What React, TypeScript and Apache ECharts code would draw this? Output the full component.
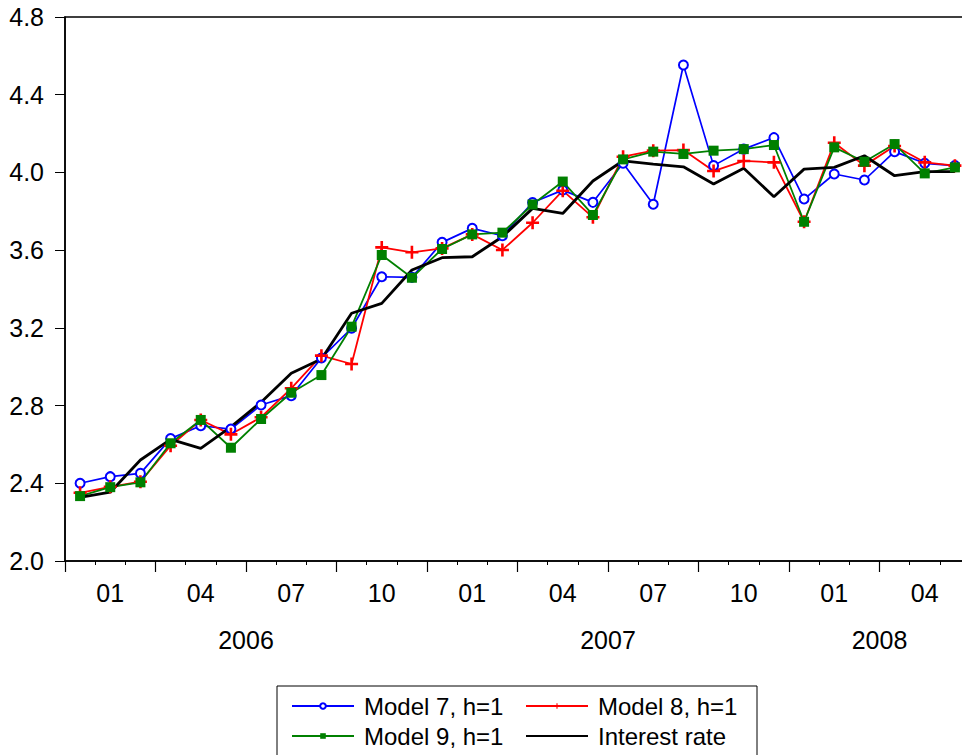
import React, { useEffect, useRef } from "react";
import * as echarts from "echarts";

const months = [
  "2006-01", "2006-02", "2006-03", "2006-04", "2006-05", "2006-06",
  "2006-07", "2006-08", "2006-09", "2006-10", "2006-11", "2006-12",
  "2007-01", "2007-02", "2007-03", "2007-04", "2007-05", "2007-06",
  "2007-07", "2007-08", "2007-09", "2007-10", "2007-11", "2007-12",
  "2008-01", "2008-02", "2008-03", "2008-04", "2008-05", "2008-06",
];

const model7 = [2.40, 2.434, 2.451, 2.63, 2.696, 2.679, 2.803, 2.851, 3.045, 3.198, 3.463, 3.46, 3.64, 3.712, 3.674, 3.845, 3.909, 3.846, 4.047, 3.836, 4.553, 4.035, 4.12, 4.179, 3.863, 3.992, 3.961, 4.107, 4.047, 4.035];
const model8 = [2.351, 2.382, 2.408, 2.593, 2.726, 2.652, 2.74, 2.889, 3.057, 3.014, 3.614, 3.589, 3.609, 3.681, 3.601, 3.741, 3.906, 3.769, 4.081, 4.112, 4.115, 4.007, 4.059, 4.052, 3.746, 4.153, 4.035, 4.136, 4.052, 4.035];
const model9 = [2.334, 2.38, 2.405, 2.606, 2.726, 2.583, 2.731, 2.866, 2.957, 3.206, 3.575, 3.458, 3.606, 3.681, 3.69, 3.835, 3.953, 3.781, 4.067, 4.107, 4.095, 4.112, 4.12, 4.141, 3.746, 4.129, 4.055, 4.146, 3.995, 4.026];
const interestRate = [2.328, 2.354, 2.52, 2.626, 2.58, 2.69, 2.817, 2.966, 3.04, 3.275, 3.326, 3.498, 3.561, 3.566, 3.669, 3.815, 3.789, 3.956, 4.06, 4.043, 4.029, 3.94, 4.021, 3.875, 4.017, 4.026, 4.086, 3.983, 4.004, 4.004];

const seriesNames = ["Model 7, h=1", "Model 8, h=1", "Model 9, h=1", "Interest rate"];

const FONT = '"Liberation Sans", Arial, Helvetica, sans-serif';
const PLUS = "path://M4,0H6V4H10V6H6V10H4V6H0V4H4Z";

export default function App() {
  const ref = useRef<HTMLDivElement>(null);
  useEffect(() => {
    if (!ref.current) return;
    const chart = echarts.init(ref.current, null, { renderer: "svg" });

    // year label positions: centre of the months belonging to each year
    const years: { year: string; center: number }[] = [];
    Array.from(new Set(months.map((m) => m.slice(0, 4)))).forEach((y) => {
      const idx = months.map((m, i) => (m.startsWith(y) ? i : -1)).filter((i) => i >= 0);
      years.push({ year: y, center: (idx[0] + idx[idx.length - 1] + 1) / 2 });
    });

    const option: any = {
      animation: false,
      backgroundColor: "#fff",
      textStyle: { fontFamily: FONT },
      grid: {
        left: 65,
        top: 17,
        width: 905,
        bottom: 194,
        show: true,
        borderColor: "#000",
        borderWidth: 1.5,
        backgroundColor: "transparent",
        containLabel: false,
        outerBoundsMode: "none",
      },
      legend: {
        data: [
          { name: seriesNames[0] },
          { name: seriesNames[1] },
          { name: seriesNames[2] },
          { name: seriesNames[3], itemStyle: { opacity: 0 } },
        ],
        left: 277,
        top: 686,
        width: 480,
        padding: [8, 4, 40, 14],
        borderColor: "#000",
        borderWidth: 1,
        itemWidth: 62,
        itemHeight: 7,
        itemGap: 6,
        textStyle: {
          fontFamily: FONT,
          fontSize: 24,
          color: "#000",
          lineHeight: 23,
          width: 155,
          padding: [0, 0, 0, 5],
        },
      },
      xAxis: [
        {
          type: "category",
          data: months,
          position: "bottom",
          boundaryGap: true,
          axisLine: { show: true, lineStyle: { color: "#000", width: 1.5 } },
          axisTick: { show: true, interval: 0, length: 4, lineStyle: { color: "#000", width: 1 } },
          axisLabel: {
            interval: (idx: number) => idx % 3 === 1,
            formatter: (_v: string, idx: number) => months[idx - 1].slice(5),
            margin: 19,
            fontSize: 25,
            color: "#000",
            fontFamily: FONT,
          },
          splitLine: { show: false },
        },
        {
          type: "value",
          position: "bottom",
          min: 0,
          max: months.length,
          interval: 3,
          axisLine: { show: false },
          axisTick: { show: true, length: 11, lineStyle: { color: "#000", width: 1.2 } },
          axisLabel: { show: false },
          splitLine: { show: false },
        },
        {
          type: "value",
          position: "bottom",
          min: 0,
          max: months.length,
          interval: 0.5,
          axisLine: { show: false },
          axisTick: { show: false },
          splitLine: { show: false },
          axisLabel: {
            show: true,
            margin: 66,
            fontSize: 25,
            color: "#000",
            fontFamily: FONT,
            showMinLabel: true,
            showMaxLabel: true,
            formatter: (v: number) => {
              const f = years.find((e) => Math.abs(e.center - v) < 1e-6);
              return f ? f.year : "";
            },
          },
        },
      ],
      yAxis: {
        type: "value",
        min: 2.0,
        max: 4.8,
        interval: 0.4,
        axisLine: { show: true, lineStyle: { color: "#000", width: 1.5 } },
        axisTick: { show: true, length: 10, lineStyle: { color: "#000", width: 1 } },
        axisLabel: {
          formatter: (v: number) => v.toFixed(1),
          fontSize: 25,
          color: "#000",
          margin: 21,
          fontFamily: FONT,
        },
        splitLine: { show: false },
      },
      series: [
        {
          name: seriesNames[0],
          type: "line",
          data: model7,
          symbol: "emptyCircle",
          symbolSize: 9,
          showAllSymbol: true,
          itemStyle: { color: "#0000ff", borderWidth: 1.3 },
          lineStyle: { color: "#0000ff", width: 1.7 },
        },
        {
          name: seriesNames[1],
          type: "line",
          data: model8,
          symbol: PLUS,
          symbolSize: 13,
          showAllSymbol: true,
          itemStyle: { color: "#ff0000" },
          lineStyle: { color: "#ff0000", width: 1.8 },
        },
        {
          name: seriesNames[2],
          type: "line",
          data: model9,
          symbol: "rect",
          symbolSize: 10,
          showAllSymbol: true,
          itemStyle: { color: "#008000" },
          lineStyle: { color: "#008000", width: 1.8 },
        },
        {
          name: seriesNames[3],
          type: "line",
          data: interestRate,
          symbol: "none",
          itemStyle: { color: "#000" },
          lineStyle: { color: "#000", width: 2.8 },
        },
      ],
    };
    chart.setOption(option);
    return () => chart.dispose();
  }, []);
  return (
    <div
      ref={ref}
      style={{ position: "absolute", left: 0, top: 0, width: 962, height: 755, overflow: "hidden" }}
    />
  );
}
